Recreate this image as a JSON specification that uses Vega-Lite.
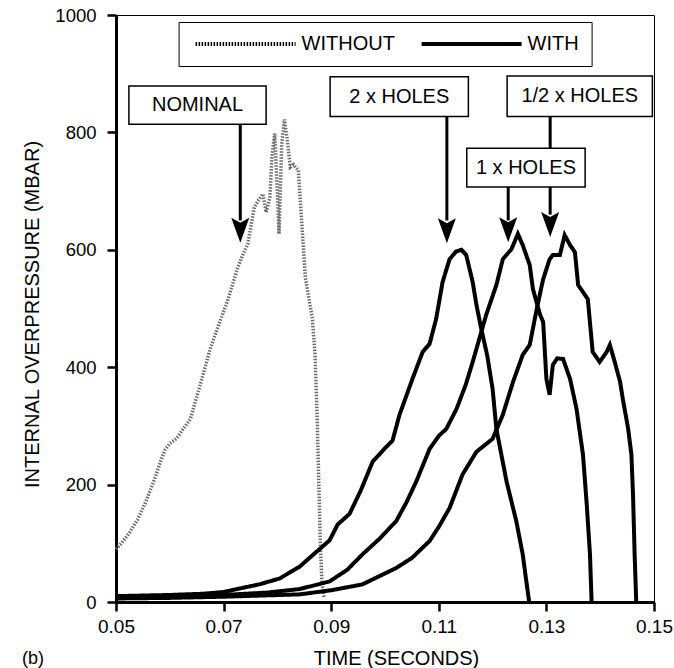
{
  "$schema": "https://vega.github.io/schema/vega-lite/v6.json",
  "width": 538,
  "height": 587,
  "autosize": {"type": "none"},
  "padding": {"left": 116, "top": 15, "right": 20, "bottom": 66},
  "background": "white",
  "config": {
    "font": "Liberation Sans",
    "view": {"stroke": "black", "strokeWidth": 1},
    "axis": {
      "grid": false,
      "domainColor": "black",
      "domainWidth": 3,
      "tickColor": "black",
      "tickWidth": 2.5,
      "tickSize": 9,
      "labelColor": "black",
      "labelFont": "Liberation Sans",
      "labelFontSize": 19,
      "titleColor": "black",
      "titleFont": "Liberation Sans",
      "titleFontSize": 20,
      "titleFontWeight": "normal"
    }
  },
  "title": {
    "text": "(b)",
    "orient": "bottom",
    "anchor": "start",
    "frame": "bounds",
    "font": "Liberation Sans",
    "fontSize": 18,
    "fontWeight": "normal",
    "color": "black",
    "offset": -18
  },
  "datasets": {
    "without": [
      {"series": "NOMINAL", "kind": "WITHOUT", "t": 0.0500, "p": 90},
      {"series": "NOMINAL", "kind": "WITHOUT", "t": 0.0510, "p": 100},
      {"series": "NOMINAL", "kind": "WITHOUT", "t": 0.0525, "p": 118},
      {"series": "NOMINAL", "kind": "WITHOUT", "t": 0.0540, "p": 140},
      {"series": "NOMINAL", "kind": "WITHOUT", "t": 0.0555, "p": 170},
      {"series": "NOMINAL", "kind": "WITHOUT", "t": 0.0570, "p": 205},
      {"series": "NOMINAL", "kind": "WITHOUT", "t": 0.0585, "p": 245},
      {"series": "NOMINAL", "kind": "WITHOUT", "t": 0.0591, "p": 259},
      {"series": "NOMINAL", "kind": "WITHOUT", "t": 0.0600, "p": 270},
      {"series": "NOMINAL", "kind": "WITHOUT", "t": 0.0613, "p": 279},
      {"series": "NOMINAL", "kind": "WITHOUT", "t": 0.0625, "p": 295},
      {"series": "NOMINAL", "kind": "WITHOUT", "t": 0.0638, "p": 311},
      {"series": "NOMINAL", "kind": "WITHOUT", "t": 0.0655, "p": 365},
      {"series": "NOMINAL", "kind": "WITHOUT", "t": 0.0675, "p": 431},
      {"series": "NOMINAL", "kind": "WITHOUT", "t": 0.0690, "p": 470},
      {"series": "NOMINAL", "kind": "WITHOUT", "t": 0.0707, "p": 512},
      {"series": "NOMINAL", "kind": "WITHOUT", "t": 0.0726, "p": 569},
      {"series": "NOMINAL", "kind": "WITHOUT", "t": 0.0735, "p": 590},
      {"series": "NOMINAL", "kind": "WITHOUT", "t": 0.0745, "p": 610},
      {"series": "NOMINAL", "kind": "WITHOUT", "t": 0.0757, "p": 672},
      {"series": "NOMINAL", "kind": "WITHOUT", "t": 0.0765, "p": 685},
      {"series": "NOMINAL", "kind": "WITHOUT", "t": 0.0773, "p": 695},
      {"series": "NOMINAL", "kind": "WITHOUT", "t": 0.0779, "p": 664},
      {"series": "NOMINAL", "kind": "WITHOUT", "t": 0.0786, "p": 689},
      {"series": "NOMINAL", "kind": "WITHOUT", "t": 0.0790, "p": 760},
      {"series": "NOMINAL", "kind": "WITHOUT", "t": 0.0795, "p": 798},
      {"series": "NOMINAL", "kind": "WITHOUT", "t": 0.0800, "p": 700},
      {"series": "NOMINAL", "kind": "WITHOUT", "t": 0.0803, "p": 627},
      {"series": "NOMINAL", "kind": "WITHOUT", "t": 0.0808, "p": 780},
      {"series": "NOMINAL", "kind": "WITHOUT", "t": 0.0813, "p": 822},
      {"series": "NOMINAL", "kind": "WITHOUT", "t": 0.0818, "p": 790},
      {"series": "NOMINAL", "kind": "WITHOUT", "t": 0.0824, "p": 741},
      {"series": "NOMINAL", "kind": "WITHOUT", "t": 0.0830, "p": 745},
      {"series": "NOMINAL", "kind": "WITHOUT", "t": 0.0839, "p": 735},
      {"series": "NOMINAL", "kind": "WITHOUT", "t": 0.0845, "p": 650},
      {"series": "NOMINAL", "kind": "WITHOUT", "t": 0.0852, "p": 552},
      {"series": "NOMINAL", "kind": "WITHOUT", "t": 0.0865, "p": 483},
      {"series": "NOMINAL", "kind": "WITHOUT", "t": 0.0870, "p": 420},
      {"series": "NOMINAL", "kind": "WITHOUT", "t": 0.0874, "p": 311},
      {"series": "NOMINAL", "kind": "WITHOUT", "t": 0.0877, "p": 200},
      {"series": "NOMINAL", "kind": "WITHOUT", "t": 0.0880, "p": 93},
      {"series": "NOMINAL", "kind": "WITHOUT", "t": 0.0883, "p": 30},
      {"series": "NOMINAL", "kind": "WITHOUT", "t": 0.0887, "p": 7}
    ],
    "with": [
      {"series": "2x", "kind": "WITH", "t": 0.0500, "p": 10},
      {"series": "2x", "kind": "WITH", "t": 0.0600, "p": 12},
      {"series": "2x", "kind": "WITH", "t": 0.0660, "p": 14},
      {"series": "2x", "kind": "WITH", "t": 0.0700, "p": 17},
      {"series": "2x", "kind": "WITH", "t": 0.0735, "p": 24},
      {"series": "2x", "kind": "WITH", "t": 0.0766, "p": 30},
      {"series": "2x", "kind": "WITH", "t": 0.0804, "p": 40},
      {"series": "2x", "kind": "WITH", "t": 0.0841, "p": 60},
      {"series": "2x", "kind": "WITH", "t": 0.0872, "p": 85},
      {"series": "2x", "kind": "WITH", "t": 0.0897, "p": 105},
      {"series": "2x", "kind": "WITH", "t": 0.0912, "p": 132},
      {"series": "2x", "kind": "WITH", "t": 0.0934, "p": 150},
      {"series": "2x", "kind": "WITH", "t": 0.0955, "p": 190},
      {"series": "2x", "kind": "WITH", "t": 0.0977, "p": 239},
      {"series": "2x", "kind": "WITH", "t": 0.1000, "p": 262},
      {"series": "2x", "kind": "WITH", "t": 0.1014, "p": 275},
      {"series": "2x", "kind": "WITH", "t": 0.1027, "p": 319},
      {"series": "2x", "kind": "WITH", "t": 0.1051, "p": 380},
      {"series": "2x", "kind": "WITH", "t": 0.1070, "p": 426},
      {"series": "2x", "kind": "WITH", "t": 0.1083, "p": 440},
      {"series": "2x", "kind": "WITH", "t": 0.1095, "p": 482},
      {"series": "2x", "kind": "WITH", "t": 0.1107, "p": 545},
      {"series": "2x", "kind": "WITH", "t": 0.1120, "p": 584},
      {"series": "2x", "kind": "WITH", "t": 0.1132, "p": 597},
      {"series": "2x", "kind": "WITH", "t": 0.1142, "p": 600},
      {"series": "2x", "kind": "WITH", "t": 0.1151, "p": 591},
      {"series": "2x", "kind": "WITH", "t": 0.1163, "p": 545},
      {"series": "2x", "kind": "WITH", "t": 0.1170, "p": 506},
      {"series": "2x", "kind": "WITH", "t": 0.1179, "p": 465},
      {"series": "2x", "kind": "WITH", "t": 0.1190, "p": 420},
      {"series": "2x", "kind": "WITH", "t": 0.1200, "p": 363},
      {"series": "2x", "kind": "WITH", "t": 0.1207, "p": 295},
      {"series": "2x", "kind": "WITH", "t": 0.1226, "p": 205},
      {"series": "2x", "kind": "WITH", "t": 0.1244, "p": 138},
      {"series": "2x", "kind": "WITH", "t": 0.1256, "p": 81},
      {"series": "2x", "kind": "WITH", "t": 0.1262, "p": 40},
      {"series": "2x", "kind": "WITH", "t": 0.1268, "p": 0},
      {"series": "1x", "kind": "WITH", "t": 0.0500, "p": 8},
      {"series": "1x", "kind": "WITH", "t": 0.0600, "p": 9},
      {"series": "1x", "kind": "WITH", "t": 0.0700, "p": 12},
      {"series": "1x", "kind": "WITH", "t": 0.0780, "p": 16},
      {"series": "1x", "kind": "WITH", "t": 0.0841, "p": 22},
      {"series": "1x", "kind": "WITH", "t": 0.0897, "p": 35},
      {"series": "1x", "kind": "WITH", "t": 0.0930, "p": 55},
      {"series": "1x", "kind": "WITH", "t": 0.0958, "p": 81},
      {"series": "1x", "kind": "WITH", "t": 0.0990, "p": 108},
      {"series": "1x", "kind": "WITH", "t": 0.1021, "p": 138},
      {"series": "1x", "kind": "WITH", "t": 0.1040, "p": 170},
      {"series": "1x", "kind": "WITH", "t": 0.1058, "p": 205},
      {"series": "1x", "kind": "WITH", "t": 0.1083, "p": 261},
      {"series": "1x", "kind": "WITH", "t": 0.1100, "p": 283},
      {"series": "1x", "kind": "WITH", "t": 0.1114, "p": 295},
      {"series": "1x", "kind": "WITH", "t": 0.1133, "p": 329},
      {"series": "1x", "kind": "WITH", "t": 0.1150, "p": 370},
      {"series": "1x", "kind": "WITH", "t": 0.1163, "p": 409},
      {"series": "1x", "kind": "WITH", "t": 0.1188, "p": 489},
      {"series": "1x", "kind": "WITH", "t": 0.1207, "p": 540},
      {"series": "1x", "kind": "WITH", "t": 0.1219, "p": 584},
      {"series": "1x", "kind": "WITH", "t": 0.1235, "p": 601},
      {"series": "1x", "kind": "WITH", "t": 0.1247, "p": 627},
      {"series": "1x", "kind": "WITH", "t": 0.1256, "p": 608},
      {"series": "1x", "kind": "WITH", "t": 0.1269, "p": 574},
      {"series": "1x", "kind": "WITH", "t": 0.1275, "p": 533},
      {"series": "1x", "kind": "WITH", "t": 0.1288, "p": 490},
      {"series": "1x", "kind": "WITH", "t": 0.1294, "p": 477},
      {"series": "1x", "kind": "WITH", "t": 0.1300, "p": 380},
      {"series": "1x", "kind": "WITH", "t": 0.1306, "p": 353},
      {"series": "1x", "kind": "WITH", "t": 0.1312, "p": 404},
      {"series": "1x", "kind": "WITH", "t": 0.1320, "p": 415},
      {"series": "1x", "kind": "WITH", "t": 0.1331, "p": 414},
      {"series": "1x", "kind": "WITH", "t": 0.1344, "p": 380},
      {"series": "1x", "kind": "WITH", "t": 0.1356, "p": 329},
      {"series": "1x", "kind": "WITH", "t": 0.1368, "p": 251},
      {"series": "1x", "kind": "WITH", "t": 0.1375, "p": 166},
      {"series": "1x", "kind": "WITH", "t": 0.1381, "p": 81},
      {"series": "1x", "kind": "WITH", "t": 0.1384, "p": 0},
      {"series": "half", "kind": "WITH", "t": 0.0500, "p": 6},
      {"series": "half", "kind": "WITH", "t": 0.0600, "p": 7},
      {"series": "half", "kind": "WITH", "t": 0.0700, "p": 9},
      {"series": "half", "kind": "WITH", "t": 0.0841, "p": 13},
      {"series": "half", "kind": "WITH", "t": 0.0900, "p": 20},
      {"series": "half", "kind": "WITH", "t": 0.0958, "p": 30},
      {"series": "half", "kind": "WITH", "t": 0.1021, "p": 58},
      {"series": "half", "kind": "WITH", "t": 0.1050, "p": 75},
      {"series": "half", "kind": "WITH", "t": 0.1083, "p": 104},
      {"series": "half", "kind": "WITH", "t": 0.1100, "p": 128},
      {"series": "half", "kind": "WITH", "t": 0.1120, "p": 160},
      {"series": "half", "kind": "WITH", "t": 0.1144, "p": 217},
      {"series": "half", "kind": "WITH", "t": 0.1170, "p": 256},
      {"series": "half", "kind": "WITH", "t": 0.1200, "p": 278},
      {"series": "half", "kind": "WITH", "t": 0.1219, "p": 319},
      {"series": "half", "kind": "WITH", "t": 0.1238, "p": 375},
      {"series": "half", "kind": "WITH", "t": 0.1256, "p": 421},
      {"series": "half", "kind": "WITH", "t": 0.1269, "p": 438},
      {"series": "half", "kind": "WITH", "t": 0.1282, "p": 499},
      {"series": "half", "kind": "WITH", "t": 0.1294, "p": 550},
      {"series": "half", "kind": "WITH", "t": 0.1306, "p": 584},
      {"series": "half", "kind": "WITH", "t": 0.1312, "p": 591},
      {"series": "half", "kind": "WITH", "t": 0.1325, "p": 591},
      {"series": "half", "kind": "WITH", "t": 0.1334, "p": 625},
      {"series": "half", "kind": "WITH", "t": 0.1344, "p": 608},
      {"series": "half", "kind": "WITH", "t": 0.1353, "p": 596},
      {"series": "half", "kind": "WITH", "t": 0.1359, "p": 540},
      {"series": "half", "kind": "WITH", "t": 0.1368, "p": 528},
      {"series": "half", "kind": "WITH", "t": 0.1377, "p": 516},
      {"series": "half", "kind": "WITH", "t": 0.1386, "p": 426},
      {"series": "half", "kind": "WITH", "t": 0.1399, "p": 409},
      {"series": "half", "kind": "WITH", "t": 0.1412, "p": 426},
      {"series": "half", "kind": "WITH", "t": 0.1418, "p": 438},
      {"series": "half", "kind": "WITH", "t": 0.1427, "p": 409},
      {"series": "half", "kind": "WITH", "t": 0.1437, "p": 375},
      {"series": "half", "kind": "WITH", "t": 0.1442, "p": 346},
      {"series": "half", "kind": "WITH", "t": 0.1452, "p": 295},
      {"series": "half", "kind": "WITH", "t": 0.1458, "p": 251},
      {"series": "half", "kind": "WITH", "t": 0.1461, "p": 183},
      {"series": "half", "kind": "WITH", "t": 0.1464, "p": 81},
      {"series": "half", "kind": "WITH", "t": 0.1467, "p": 0}
    ],
    "arrows": [
      {"label": "NOMINAL", "t": 0.0731, "p": 814, "p2": 650, "tip": 612},
      {"label": "2 x HOLES", "t": 0.1115, "p": 827, "p2": 650, "tip": 611},
      {"label": "1 x HOLES", "t": 0.1229, "p": 707, "p2": 650, "tip": 613},
      {"label": "1/2 x HOLES", "t": 0.1307, "p": 827, "p2": 660, "tip": 622}
    ],
    "boxes": [
      {"label": "NOMINAL", "t": 0.0524, "t2": 0.0779, "p": 879, "p2": 814, "tc": 0.06515, "pc": 846.5},
      {"label": "2 x HOLES", "t": 0.0898, "t2": 0.1155, "p": 895, "p2": 827, "tc": 0.10265, "pc": 861},
      {"label": "1/2 x HOLES", "t": 0.1227, "t2": 0.1497, "p": 896, "p2": 827, "tc": 0.1362, "pc": 861.5},
      {"label": "1 x HOLES", "t": 0.1152, "t2": 0.1372, "p": 773, "p2": 707, "tc": 0.1262, "pc": 740}
    ]
  },
  "layer": [
    {
      "data": {"name": "without"},
      "mark": {"type": "line", "color": "#6a6a6a", "strokeWidth": 3.5, "interpolate": "linear"},
      "encoding": {
        "x": {
          "field": "t", "type": "quantitative",
          "scale": {"domain": [0.05, 0.15], "nice": false, "zero": false},
          "axis": {
            "title": "TIME (SECONDS)",
            "values": [0.05, 0.07, 0.09, 0.11, 0.13, 0.15],
            "format": ".2f",
            "labelPadding": 6,
            "labelFlush": false,
            "titleX": 280,
            "titleY": 62,
            "titleBaseline": "alphabetic"
          }
        },
        "y": {
          "field": "p", "type": "quantitative",
          "scale": {"domain": [0, 1000], "nice": false},
          "axis": {
            "title": "INTERNAL OVERPRESSURE (MBAR)",
            "values": [0, 200, 400, 600, 800, 1000],
            "format": "d",
            "labelPadding": 11,
            "labelFontSize": 18.5,
            "titleX": -78,
            "titleY": 299,
            "titleAngle": -90,
            "titleBaseline": "alphabetic",
            "titleAlign": "center"
          }
        },
        "detail": {"field": "series"},
        "strokeDash": {
          "field": "kind", "type": "nominal",
          "scale": {"domain": ["WITHOUT", "WITH"], "range": [[1.5, 1.5], [1, 0]]},
          "legend": {
            "orient": "none",
            "legendX": 62.6,
            "legendY": 7,
            "direction": "horizontal",
            "title": null,
            "symbolType": "M-1,0L19,0",
            "symbolSize": 100,
            "symbolStrokeWidth": 4,
            "symbolStrokeColor": "black",
            "labelFont": "Liberation Sans",
            "labelFontSize": 20,
            "labelColor": "black",
            "labelOffset": 91,
            "columnPadding": 18,
            "padding": 12,
            "strokeColor": "black",
            "fillColor": "white",
            "labelExpr": "datum.label == 'WITH' ? '\u00a0\u00a0\u00a0WITH' : datum.label"
          }
        }
      }
    },
    {
      "data": {"name": "with"},
      "mark": {"type": "line", "color": "black", "strokeWidth": 4, "interpolate": "linear"},
      "encoding": {
        "x": {"field": "t", "type": "quantitative"},
        "y": {"field": "p", "type": "quantitative"},
        "detail": {"field": "series"},
        "strokeDash": {"field": "kind", "type": "nominal"}
      }
    },
    {
      "data": {"name": "arrows"},
      "mark": {"type": "rule", "color": "black", "strokeWidth": 3},
      "encoding": {
        "x": {"field": "t", "type": "quantitative"},
        "y": {"field": "p", "type": "quantitative"},
        "y2": {"field": "p2"}
      }
    },
    {
      "data": {"name": "arrows"},
      "mark": {"type": "point", "shape": "M0,0L-0.72,-2L0,-1.6L0.72,-2Z", "filled": true, "color": "black", "opacity": 1, "size": 625},
      "encoding": {
        "x": {"field": "t", "type": "quantitative"},
        "y": {"field": "tip", "type": "quantitative"}
      }
    },
    {
      "data": {"name": "boxes"},
      "mark": {"type": "rect", "fill": "white", "stroke": "black", "strokeWidth": 1.5},
      "encoding": {
        "x": {"field": "t", "type": "quantitative"},
        "x2": {"field": "t2"},
        "y": {"field": "p", "type": "quantitative"},
        "y2": {"field": "p2"}
      }
    },
    {
      "data": {"name": "boxes"},
      "mark": {"type": "text", "font": "Liberation Sans", "fontSize": 20, "color": "black", "align": "center", "baseline": "middle"},
      "encoding": {
        "x": {"field": "tc", "type": "quantitative"},
        "y": {"field": "pc", "type": "quantitative"},
        "text": {"field": "label"}
      }
    }
  ]
}
